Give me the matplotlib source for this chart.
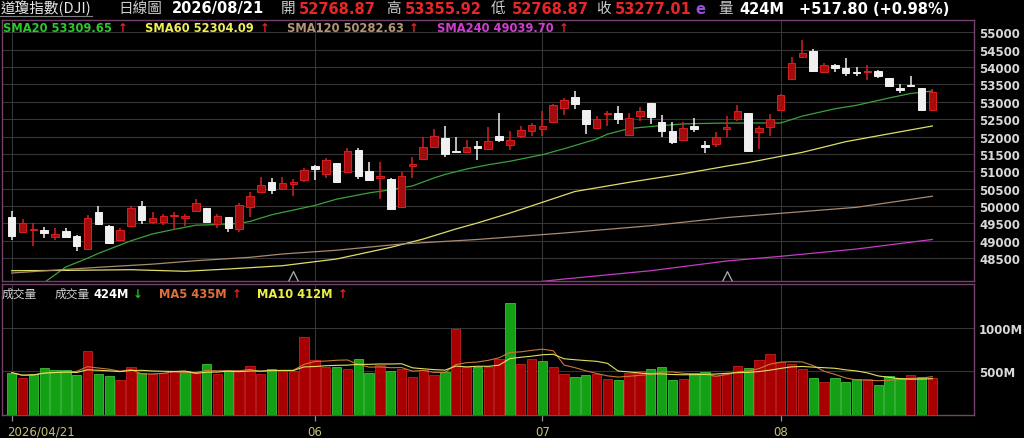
import matplotlib
matplotlib.use("Agg")
import matplotlib.pyplot as plt
import matplotlib.transforms as mtransforms
from matplotlib.lines import Line2D
import numpy as np
import pandas as pd

plt.rcParams['font.family'] = ['DejaVu Sans', 'Noto Sans CJK TC']

# ---------------- data ----------------
opens = [49696, 49264, 49320, 49322, 49101, 49293, 49149, 48766, 49820, 49437,
         49025, 49437, 50012, 49552, 49552, 49705, 49667, 49849, 49936, 49485,
         49677, 49341, 49964, 50415, 50702, 50491, 50645, 50760, 51163, 50923,
         51239, 50971, 51623, 51000, 50817, 50779, 49964, 51143, 51354, 51709,
         51949, 51594, 51565, 51719, 51642, 52006, 51767, 52006, 52170, 52217,
         52409, 52812, 53129, 52764, 52246, 52649, 52678, 52045, 52601, 52956,
         52428, 52170, 51901, 52304, 51757, 51786, 52218, 52506, 52679, 52142,
         52266, 52775, 53657, 54280, 54453, 53849, 54060, 53973, 53849, 53849,
         53877, 53676, 53388, 53494, 53388, 52768.87]
highs = [49868, 49629, 49504, 49408, 49360, 49379, 49168, 49744, 49993, 49466,
         49360, 49993, 50156, 49820, 49773, 49820, 49773, 50204, 49950, 49773,
         49690, 50089, 50395, 50846, 50798, 50827, 50779, 51086, 51170, 51374,
         51250, 51671, 51671, 51278, 51278, 50808, 50990, 51402, 51978, 52217,
         52313, 51978, 51901, 51882, 52265, 52668, 52150, 52313, 52390, 52726,
         52937, 53100, 53320, 52776, 52582, 52726, 52870, 52668, 52841, 52970,
         52620, 52428, 52409, 52524, 51882, 52122, 52601, 52909, 52690, 52295,
         52650, 53225, 54280, 54788, 54520, 54108, 54088, 54252, 53992, 54060,
         53925, 53680, 53513, 53734, 53400, 53355.92]
lows = [49034, 49250, 48861, 49092, 49025, 49072, 48698, 48750, 49470, 48900,
        49005, 49420, 49485, 49485, 49466, 49322, 49437, 49840, 49504, 49360,
        49245, 49245, 49676, 50400, 50347, 50472, 50299, 50683, 50760, 50808,
        50670, 50960, 50779, 50731, 50204, 49897, 49950, 50808, 51340, 51700,
        51402, 51550, 51550, 51326, 51630, 51853, 51623, 51949, 52006, 52006,
        52400, 52630, 52793, 52074, 52230, 52294, 52361, 52030, 52438, 52361,
        51978, 51776, 51890, 52141, 51527, 51690, 51978, 52458, 51547, 51643,
        52007, 52760, 53640, 54270, 53868, 53820, 53849, 53753, 53734, 53628,
        53676, 53417, 53254, 53417, 52755, 52768.87]
closes = [49149, 49504, 49345, 49216, 49197, 49120, 48861, 49648, 49485, 48929,
          49312, 49936, 49600, 49648, 49725, 49744, 49705, 50089, 49533, 49705,
          49360, 50031, 50299, 50606, 50472, 50654, 50683, 51048, 51067, 51326,
          50683, 51594, 50856, 50760, 50875, 49916, 50856, 51201, 51690, 52026,
          51498, 51556, 51709, 51661, 51863, 51910, 51890, 52198, 52333, 52310,
          52908, 53061, 52937, 52361, 52505, 52687, 52505, 52524, 52726, 52553,
          52150, 51834, 52246, 52227, 51690, 51978, 52266, 52746, 51595, 52237,
          52506, 53196, 54108, 54395, 53897, 54060, 53964, 53840, 53815, 53897,
          53734, 53465, 53350, 53465, 52759, 53277.01]
volumes = [481, 423, 462, 538, 512, 512, 454, 735, 462, 442,
           396, 550, 481, 462, 481, 488, 500, 481, 581, 462,
           496, 496, 554, 462, 527, 500, 500, 896, 627, 550,
           546, 519, 635, 473, 565, 500, 527, 431, 512, 454,
           488, 981, 546, 550, 550, 635, 1288, 581, 635, 619,
           542, 465, 435, 454, 465, 404, 396, 481, 504, 523,
           542, 396, 404, 473, 492, 442, 481, 558, 531, 627,
           696, 600, 581, 519, 415, 377, 415, 377, 404, 404,
           345, 440, 423, 460, 428, 424]
prev_close = 49300

month_tick_idx = [0, 28, 49, 71]
month_tick_labels = ['2026/04/21', '06', '07', '08']
price_ticks = list(range(48500, 55001, 500))
vol_ticks = [500, 1000]
vol_tick_labels = ['500M', '1000M']

sma20_idx = [3, 5, 7, 8, 11, 13, 15, 17, 19, 21, 22, 24, 28, 30, 33, 35, 37, 39, 40, 42,
             44, 46, 49, 51, 54, 55, 57, 59, 62, 65, 68, 71, 73, 76, 78, 81, 83, 85]
sma20_val = [47800, 48250, 48500, 48640, 49000, 49200, 49330, 49450, 49470, 49500, 49560,
             49750, 50020, 50200, 50380, 50470, 50580, 50810, 50910, 51067, 51190, 51290,
             51479, 51650, 51930, 52070, 52230, 52290, 52365, 52385, 52391, 52391, 52590,
             52800, 52900, 53110, 53240, 53310]
sma60_idx = [0, 5, 11, 16, 20, 25, 30, 35, 38, 41, 43, 46, 49, 52, 57, 62, 66, 68, 71, 73, 77, 81, 85]
sma60_val = [48141, 48150, 48170, 48124, 48190, 48285, 48478, 48814, 49053, 49341, 49514,
             49800, 50109, 50420, 50684, 50930, 51150, 51250, 51432, 51547, 51853, 52080, 52304]
sma120_idx = [0, 8, 13, 17, 22, 25, 30, 36, 43, 51, 59, 66, 71, 78, 85]
sma120_val = [48075, 48239, 48330, 48429, 48527, 48622, 48730, 48910, 49040, 49226, 49436,
              49670, 49792, 49965, 50283]
sma240_idx = [48, 51, 59, 66, 71, 78, 85]
sma240_val = [47800, 47902, 48141, 48420, 48555, 48765, 49040]
marker_idx = [26, 66]

# ---------------- figure ----------------
W, H = 1024, 439
fig = plt.figure(figsize=(W / 100, H / 100), dpi=100, facecolor='black')


def px_rect(x0, y0, x1, y1):
    return [x0 / W, 1 - y1 / H, (x1 - x0) / W, (y1 - y0) / H]


axp = fig.add_axes(px_rect(2, 20.5, 973.5, 282))
axv = fig.add_axes(px_rect(2, 284.5, 973.5, 415.5), sharex=axp)

SPINE = '#74426a'
GRID = '#363636'
for ax in (axp, axv):
    ax.set_facecolor('black')
    for s in ax.spines.values():
        s.set_color(SPINE)
        s.set_linewidth(1.0)
    ax.set_axisbelow(True)

x = np.arange(len(closes))
o = np.array(opens, float)
c = np.array(closes, float)
h = np.array(highs, float)
l = np.array(lows, float)
up = c >= o

RED_FACE, RED_EDGE, WHITE = '#a30d0d', '#d82020', '#f0f0f0'
axp.vlines(x, l, h, colors=np.where(up, RED_EDGE, WHITE), lw=1.1, zorder=3)
minh = 35
bh = np.abs(c - o)
mid = (o + c) / 2
bottom = np.where(bh < minh, mid - minh / 2, np.minimum(o, c))
height = np.maximum(bh, minh)
axp.bar(x, height, bottom=bottom, width=0.7,
        color=np.where(up, RED_FACE, WHITE),
        edgecolor=np.where(up, RED_EDGE, WHITE), lw=0.7, zorder=4)

axp.plot(sma20_idx, sma20_val, color='#3aa23a', lw=0.9, zorder=2)
axp.plot(sma60_idx, sma60_val, color='#dede6a', lw=0.9, zorder=2)
axp.plot(sma120_idx, sma120_val, color='#a88a70', lw=0.9, zorder=2)
axp.plot(sma240_idx, sma240_val, color='#c43cc4', lw=0.9, zorder=2)

axp.plot(marker_idx, [0.018] * len(marker_idx), transform=axp.get_xaxis_transform(),
         marker=[(-1, -1), (0, 1), (1, -1)], ms=7, mfc='none', mec='#b0b0b0',
         mew=0.9, ls='none', clip_on=False, zorder=5)

axp.set_xlim(-0.896, 88.8)
axp.set_ylim(47845, 55368)
axp.set_yticks(price_ticks)
axp.set_xticks(month_tick_idx)
axp.grid(True, color=GRID, lw=0.8)
axp.yaxis.tick_right()
axp.tick_params(axis='y', length=0, pad=4, labelcolor='#d8d8d8', labelsize=8.5)
axp.tick_params(axis='x', length=0, labelbottom=False)
for lab in axp.get_yticklabels():
    lab.set_fontweight('bold')

# volume
prev = np.concatenate([[prev_close], c[:-1]])
vup = c >= prev
axv.bar(x, volumes, width=0.86, color=np.where(vup, '#a80000', '#14a014'),
        edgecolor=np.where(vup, '#c82020', '#3cc03c'), lw=0.6, zorder=3)
vs = pd.Series(volumes, dtype=float)
axv.plot(x, vs.rolling(5, min_periods=1).mean(), color='#c87838', lw=0.8, zorder=4)
axv.plot(x, vs.rolling(10, min_periods=1).mean(), color='#e0e060', lw=0.8, zorder=4)
axv.set_ylim(0, 1507)
axv.set_yticks(vol_ticks)
axv.set_yticklabels(vol_tick_labels)
axv.grid(True, color=GRID, lw=0.8)
axv.yaxis.tick_right()
axv.tick_params(axis='y', length=0, pad=4, labelcolor='#d8d8d8', labelsize=8.5)
for lab in axv.get_yticklabels():
    lab.set_fontweight('bold')
axv.set_xticks(month_tick_idx)
axv.set_xticklabels(month_tick_labels)
axv.tick_params(axis='x', length=4.5, width=0.9, color='#909090', labelcolor='#c8c078',
                labelsize=8.5, pad=3)
first = axv.xaxis.get_major_ticks()[0].label1
first.set_horizontalalignment('left')
first.set_transform(first.get_transform() +
                    mtransforms.ScaledTranslation(-5 / 100, 0, fig.dpi_scale_trans))


# ---------------- texts ----------------
def ftext(px, py, s, color, size, weight='normal', family=None):
    kw = {}
    if family:
        kw['family'] = family
    fig.text(px / W, 1 - py / H, s, color=color, fontsize=size, fontweight=weight,
             va='center', ha='left', **kw)


CJK = ['Noto Sans CJK TC']
GRAY = '#cfcfcf'
REDT = '#e8262a'
ftext(1, 8.5, '道瓊指數(DJI)', '#e6e6e6', 10.5, family=CJK)
fig.add_artist(Line2D([0 / W, 92 / W], [1 - 16.5 / H, 1 - 16.5 / H], color='#808080', lw=0.8))
ftext(118, 8.5, '日線圖', GRAY, 10.5, family=CJK)
ftext(172, 9, '2026/08/21', 'white', 10.5, 'bold')
ftext(281, 8.5, '開', GRAY, 10.5, family=CJK)
ftext(299, 9, '52768.87', REDT, 10.5, 'bold')
ftext(386, 8.5, '高', GRAY, 10.5, family=CJK)
ftext(405, 9, '53355.92', REDT, 10.5, 'bold')
ftext(491, 8.5, '低', GRAY, 10.5, family=CJK)
ftext(512, 9, '52768.87', REDT, 10.5, 'bold')
ftext(596, 8.5, '收', GRAY, 10.5, family=CJK)
ftext(615, 9, '53277.01', REDT, 10.5, 'bold')
ftext(695, 9, 'e', '#9650dc', 10.5, 'bold')
ftext(718, 8.5, '量', GRAY, 10.5, family=CJK)
ftext(739, 9, '424M', 'white', 10.5, 'bold')
ftext(799, 9, '+517.80 (+0.98%)', 'white', 10.5, 'bold')

ftext(3, 29, 'SMA20 53309.65', '#2cc82c', 8.3, 'bold')
ftext(118, 29, '↑', '#ee2020', 8.5, 'bold')
ftext(145, 29, 'SMA60 52304.09', '#eeee55', 8.3, 'bold')
ftext(260, 29, '↑', '#ee2020', 8.5, 'bold')
ftext(287, 29, 'SMA120 50282.63', '#b49674', 8.3, 'bold')
ftext(409, 29, '↑', '#ee2020', 8.5, 'bold')
ftext(437, 29, 'SMA240 49039.70', '#d23cd2', 8.3, 'bold')
ftext(559, 29, '↑', '#ee2020', 8.5, 'bold')

ftext(2, 294, '成交量', GRAY, 8.5, family=CJK)
ftext(55, 294, '成交量', GRAY, 8.5, family=CJK)
ftext(93, 294, '424M', 'white', 8.3, 'bold')
ftext(133, 294, '↓', '#20c020', 8.5, 'bold')
ftext(159, 294, 'MA5 435M', '#e0703a', 8.3, 'bold')
ftext(232, 294, '↑', '#ee2020', 8.5, 'bold')
ftext(257, 294, 'MA10 412M', '#eeee44', 8.3, 'bold')
ftext(338, 294, '↑', '#ee2020', 8.5, 'bold')

fig.savefig('out.png', dpi=100, facecolor='black')
